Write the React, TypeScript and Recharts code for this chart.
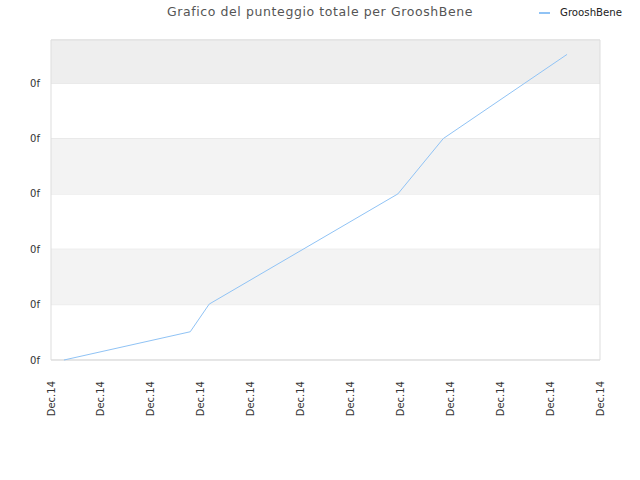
import { LineChart, Line, XAxis, YAxis, CartesianGrid, ReferenceArea } from "recharts";

// Positions along the date axis (one unit per tick) and the total score
const dayPositions = [0.26, 2.79, 3.17, 6.95, 7.86, 10.34];
const scores = [0, 0.51, 1.01, 3.0, 4.0, 5.52];
const xTicks = [0, 1, 2, 3, 4, 5, 6, 7, 8, 9, 10, 11];
const yTicks = [0, 1, 2, 3, 4, 5];
const xTickLabel = "Dec.14";
const yTickLabel = "0f";
const seriesName = "GrooshBene";
const title = "Grafico del punteggio totale per GrooshBene";

const data = dayPositions.map((d, i) => ({ day: d, score: scores[i] }));

const FONT = "'DejaVu Sans', sans-serif";
const LINE_COLOR = "#90c3f5";

function DateTick(props: any) {
  const { x, y } = props;
  return (
    <text
      x={x}
      y={y + 13}
      dy="0.35em"
      textAnchor="end"
      transform={`rotate(-90, ${x}, ${y + 13})`}
      fontSize={10}
      fontFamily={FONT}
      fill="#333"
    >
      {xTickLabel}
    </text>
  );
}

export default function App() {
  return (
    <div style={{ position: "absolute", left: 0, top: 0, width: 640, height: 480, background: "#fff" }}>
      <div
        style={{
          position: "absolute",
          top: 4,
          left: 0,
          width: 640,
          textAlign: "center",
          fontFamily: FONT,
          fontSize: 12.5,
          letterSpacing: 0.6,
          color: "#555",
        }}
      >
        {title}
      </div>
      <div
        style={{
          position: "absolute",
          top: 7,
          left: 539,
          display: "flex",
          alignItems: "center",
          fontFamily: FONT,
          fontSize: 10.2,
          color: "#222",
        }}
      >
        <span style={{ display: "inline-block", width: 11, height: 2, background: LINE_COLOR, marginRight: 10 }} />
        {seriesName}
      </div>
      <LineChart width={640} height={480} data={data} margin={{ top: 40, right: 40, bottom: 0, left: 0 }}>
        <ReferenceArea x1={0} x2={11} y1={1} y2={2} fill="#f3f3f3" fillOpacity={1} strokeOpacity={0} />
        <ReferenceArea x1={0} x2={11} y1={3} y2={4} fill="#f3f3f3" fillOpacity={1} strokeOpacity={0} />
        <ReferenceArea x1={0} x2={11} y1={5} y2={5.78} fill="#eeeeee" fillOpacity={1} strokeOpacity={0} />
        <CartesianGrid vertical={false} stroke="#dddddd" />
        <ReferenceArea x1={0} x2={11} y1={0} y2={5.78} fill="none" stroke="#dddddd" strokeWidth={1} />
        <XAxis
          type="number"
          dataKey="day"
          domain={[0, 11]}
          ticks={xTicks}
          interval={0}
          height={120}
          axisLine={false}
          tickLine={false}
          tick={<DateTick />}
        />
        <YAxis
          type="number"
          domain={[0, 5.78]}
          ticks={yTicks}
          width={51}
          axisLine={false}
          tickLine={false}
          tickSize={6}
          tickMargin={5}
          tickFormatter={() => yTickLabel}
          tick={{ fontSize: 10, fontFamily: FONT, fill: "#333" }}
        />
        <Line
          type="linear"
          dataKey="score"
          stroke={LINE_COLOR}
          strokeWidth={1}
          dot={false}
          isAnimationActive={false}
        />
      </LineChart>
    </div>
  );
}
